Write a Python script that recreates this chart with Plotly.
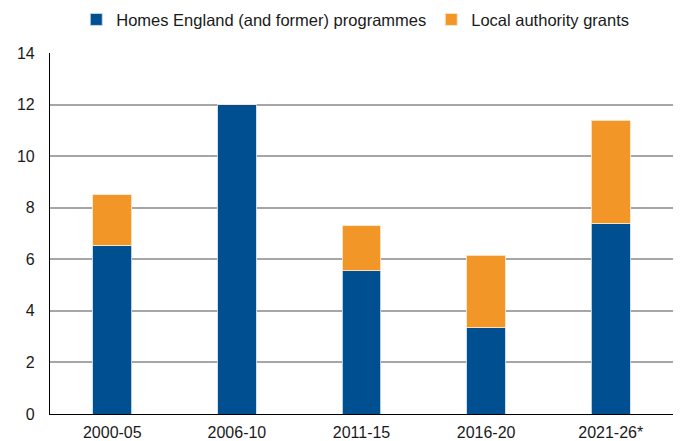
import plotly.graph_objects as go

categories = ["2000-05", "2006-10", "2011-15", "2016-20", "2021-26*"]
homes_england = [6.54, 12.0, 5.56, 3.35, 7.39]
local_authority = [1.96, 0.0, 1.74, 2.81, 4.01]
y_ticks = [0, 2, 4, 6, 8, 10, 12, 14]

BLUE = "#004f91"
ORANGE = "#f39628"

fig = go.Figure()
fig.add_trace(go.Bar(
    x=categories, y=homes_england, name="Homes England (and former) programmes",
    marker=dict(color=BLUE, line=dict(color="rgba(200,220,240,0.9)", width=1)),
))
fig.add_trace(go.Bar(
    x=categories, y=local_authority, name="Local authority grants",
    marker=dict(color=ORANGE, line=dict(color="rgba(255,230,200,0.9)", width=1)),
))

fig.update_layout(
    barmode="stack",
    bargap=0.69,
    width=680, height=441,
    margin=dict(l=50, r=7, t=53, b=27, autoexpand=False),
    paper_bgcolor="white", plot_bgcolor="white",
    font=dict(family="Liberation Sans, Arial, sans-serif", size=16, color="#1a1a1a"),
    legend=dict(
        orientation="h", x=0.49, xanchor="center", y=0.995, yanchor="top",
        yref="container", itemwidth=30, font=dict(size=16.5), traceorder="normal",
        itemclick=False,
    ),
    showlegend=True,
)
fig.update_xaxes(
    type="category", automargin=False,
    showline=True, linecolor="black", linewidth=1.2, ticks="", showgrid=False,
    ticklabelstandoff=4,
)
fig.update_yaxes(
    automargin=False,
    range=[0, 14], tickvals=y_ticks, showline=True, linecolor="black", linewidth=1.2,
    showgrid=True, gridcolor="#a6a6a6", gridwidth=1.5, zeroline=False, ticks="",
    ticklabelstandoff=11,
)

fig.write_html("out.html")
